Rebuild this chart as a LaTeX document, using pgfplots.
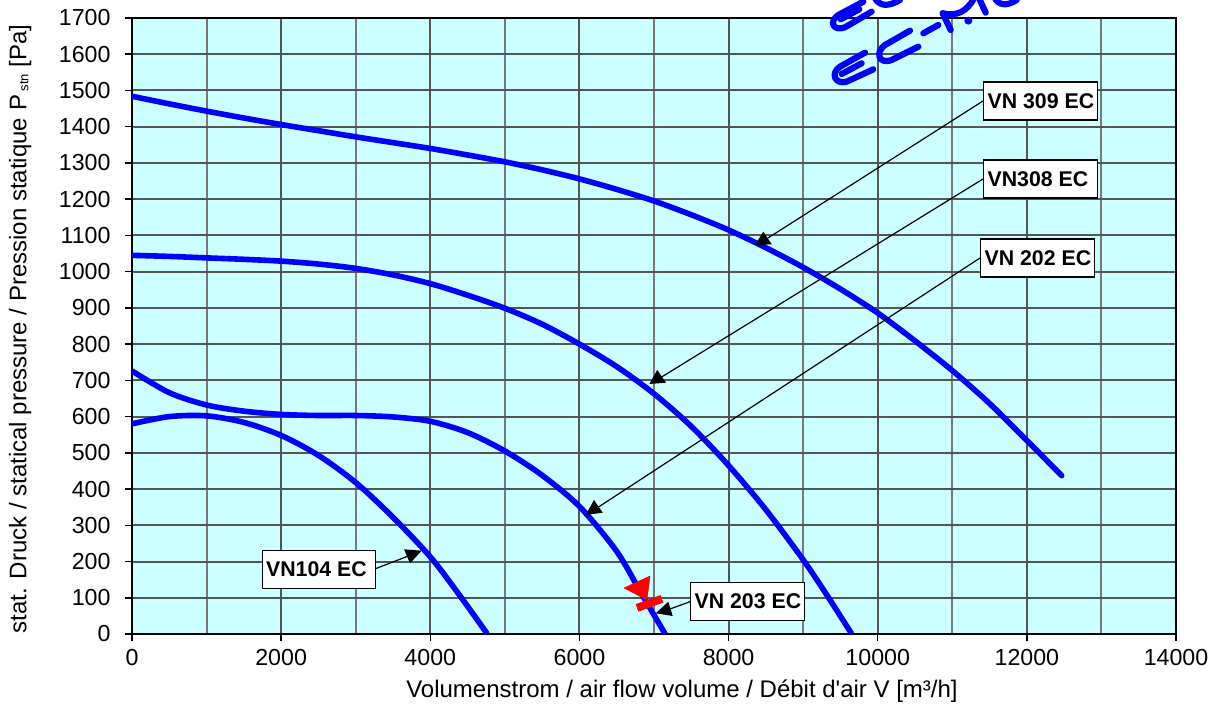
\documentclass[border=0pt]{standalone}
\usepackage{fontspec}
\setmainfont{Liberation Sans}[Ligatures=TeXOff]
\usepackage{pgfplots}
\pgfplotsset{compat=1.18}
\definecolor{plotbg}{RGB}{204,255,255}
\definecolor{gridmaj}{RGB}{85,85,85}
\definecolor{gridmin}{RGB}{120,120,120}
\definecolor{curve}{RGB}{0,0,255}
\begin{document}
\begin{tikzpicture}[x=1pt,y=1pt]
\path[use as bounding box] (-132,-72) rectangle (1085,634);
\begin{axis}[
  at={(0pt,0pt)},anchor=south west,
  width=1044pt,height=616pt,scale only axis,
  xmin=0,xmax=14000,ymin=0,ymax=1700,
  xtick={0,2000,4000,6000,8000,10000,12000,14000},
  scaled x ticks=false,
  minor xtick={1000,3000,5000,7000,9000,11000,13000},
  ytick={0,100,...,1700},
  grid=both,
  major grid style={gridmaj,line width=2pt},
  minor grid style={gridmin,line width=2pt},
  axis line style={black,line width=2pt},
  tick style={black,line width=1.5pt},
  tick align=outside,
  major tick length=7pt,
  minor tick length=0pt,
  tick pos=left,
  axis background/.style={fill=plotbg},
  /pgf/number format/assume math mode=true,
  /pgf/number format/1000 sep={},
  tick label style={font=\fontsize{23.2}{26}\selectfont},
  xticklabel style={yshift=-5pt},
  yticklabel style={xshift=-11pt},
  xlabel={Volumenstrom / air flow volume / Débit d'air V [m³/h]},
  ylabel={stat. Druck / statical pressure / Pression statique P\raisebox{-2pt}{\fontsize{13}{13}\selectfont\ stn} [Pa]},
  label style={font=\fontsize{24}{27}\selectfont},
  xlabel style={at={(axis description cs:0.5,0)},anchor=north,yshift=-42pt,xshift=28pt},
  ylabel style={at={(axis description cs:0,0.5)},anchor=south,yshift=97pt,xshift=-3pt},
  every axis plot/.append style={line join=round},
]
\addplot[curve,line width=5.6pt,smooth,line cap=round] coordinates {
(0,1484)(500,1463)(1000,1443)(1500,1424)(2000,1406)(2500,1389)(3000,1372)(3500,1356)(4000,1340)(4500,1322)(5000,1303)(5500,1281)(6000,1256)(6500,1227)(7000,1195)(7500,1157)(8000,1115)(8500,1066)(9000,1012)(9500,952)(10000,886)(10500,809)(11000,727)(11500,636)(12000,534)(12467,437)};
\addplot[curve,line width=5.6pt,smooth] coordinates {
(0,1045)(500,1042)(1000,1038)(1500,1034)(2000,1029)(2500,1021)(3000,1009)(3500,991)(4000,967)(4500,935)(5000,899)(5500,855)(6000,800)(6500,738)(7000,663)(7500,573)(8000,465)(8500,343)(9000,205)(9326,105)(9652,0)};
\addplot[curve,line width=5.6pt,smooth] coordinates {
(0,726)(500,666)(1000,632)(1500,615)(2000,606)(2500,603)(3000,603)(3500,599)(4000,587)(4500,556)(5000,505)(5500,438)(6000,352)(6500,228)(6830,112)(7150,0)};
\addplot[curve,line width=5.6pt,smooth] coordinates {
(0,580)(500,600)(1000,602)(1500,584)(2000,548)(2500,493)(3000,418)(3500,322)(4000,213)(4382,110)(4765,0)};
\addplot[red,fill=red,line width=0.5pt] coordinates {(6946,160)(6598,127)(6906,94)(6946,160)};
\addplot[red,line width=8pt] coordinates {(6772,72)(7107,97)};
\end{axis}
% annotations and watermark, in the reference's pixel coordinates
\begin{scope}[shift={(-132,634)},yscale=-1]
\tikzset{lab/.style={draw=black,fill=white,line width=1.3pt,font=\fontsize{21.3}{24}\selectfont\bfseries,inner sep=0pt,minimum height=38pt,anchor=west}}
\draw[black,line width=1.2pt] (983,101)--(768,238);
\draw[black,line width=1.2pt] (983,179)--(660,378);
\draw[black,line width=1.2pt] (980,258)--(597,508);
\draw[black,line width=1.2pt] (376,568.5)--(407,556.5);
\draw[black,line width=1.2pt] (690,601.7)--(670,609);
\fill[black] (763.3,231.7)--(755,245)--(771.7,244.3)--cycle;
\fill[black] (657.3,370)--(649.3,384)--(666,382.7)--cycle;
\fill[black] (594,500)--(585.7,515)--(602.7,512.7)--cycle;
\fill[black] (668.3,601.7)--(655.7,613.3)--(672.7,616)--cycle;
\fill[black] (404,549.3)--(421.7,550.7)--(410,563.3)--cycle;
\node[lab] at (983,101) {\makebox[114pt][l]{\hspace{4pt}VN 309 EC}};
\node[lab] at (983,179) {\makebox[114pt][l]{\hspace{4pt}VN308 EC}};
\node[lab] at (980,258) {\makebox[114pt][l]{\hspace{4pt}VN 202 EC}};
\node[lab] at (261.5,569.5) {\makebox[113.5pt][l]{\hspace{4pt}VN104 EC}};
\node[lab] at (690,601.5) {\makebox[113.5pt][l]{\hspace{4pt}VN 203 EC}};
\end{scope}
\begin{scope}[shift={(688,634)},xscale=1/3,yscale=-1/3,curve,line width=6.2pt,line cap=round,line join=round]
% second line
\draw (135,158)--(60,200) .. controls (30,220) and (45,255) .. (80,245)--(160,208);
\draw (65,222)--(125,190);
\draw (270,92)--(195,135) .. controls (165,155) and (175,195) .. (215,180)--(295,140);
\draw (310,100)--(355,75);
\draw (368,40)--(392,90);
\draw (368,40) .. controls (410,50) and (440,35) .. (462,-5);
\fill (445,62) circle (12);
\draw (475,-10)--(497,38);
\draw (525,-5) .. controls (535,15) and (560,20) .. (590,0);
% first line
\draw (130,5)--(55,45) .. controls (25,65) and (40,95) .. (75,82)--(155,35);
\draw (62,58)--(118,28);
\draw (165,-5) .. controls (180,20) and (205,20) .. (240,0);
\end{scope}
\end{tikzpicture}
\end{document}
